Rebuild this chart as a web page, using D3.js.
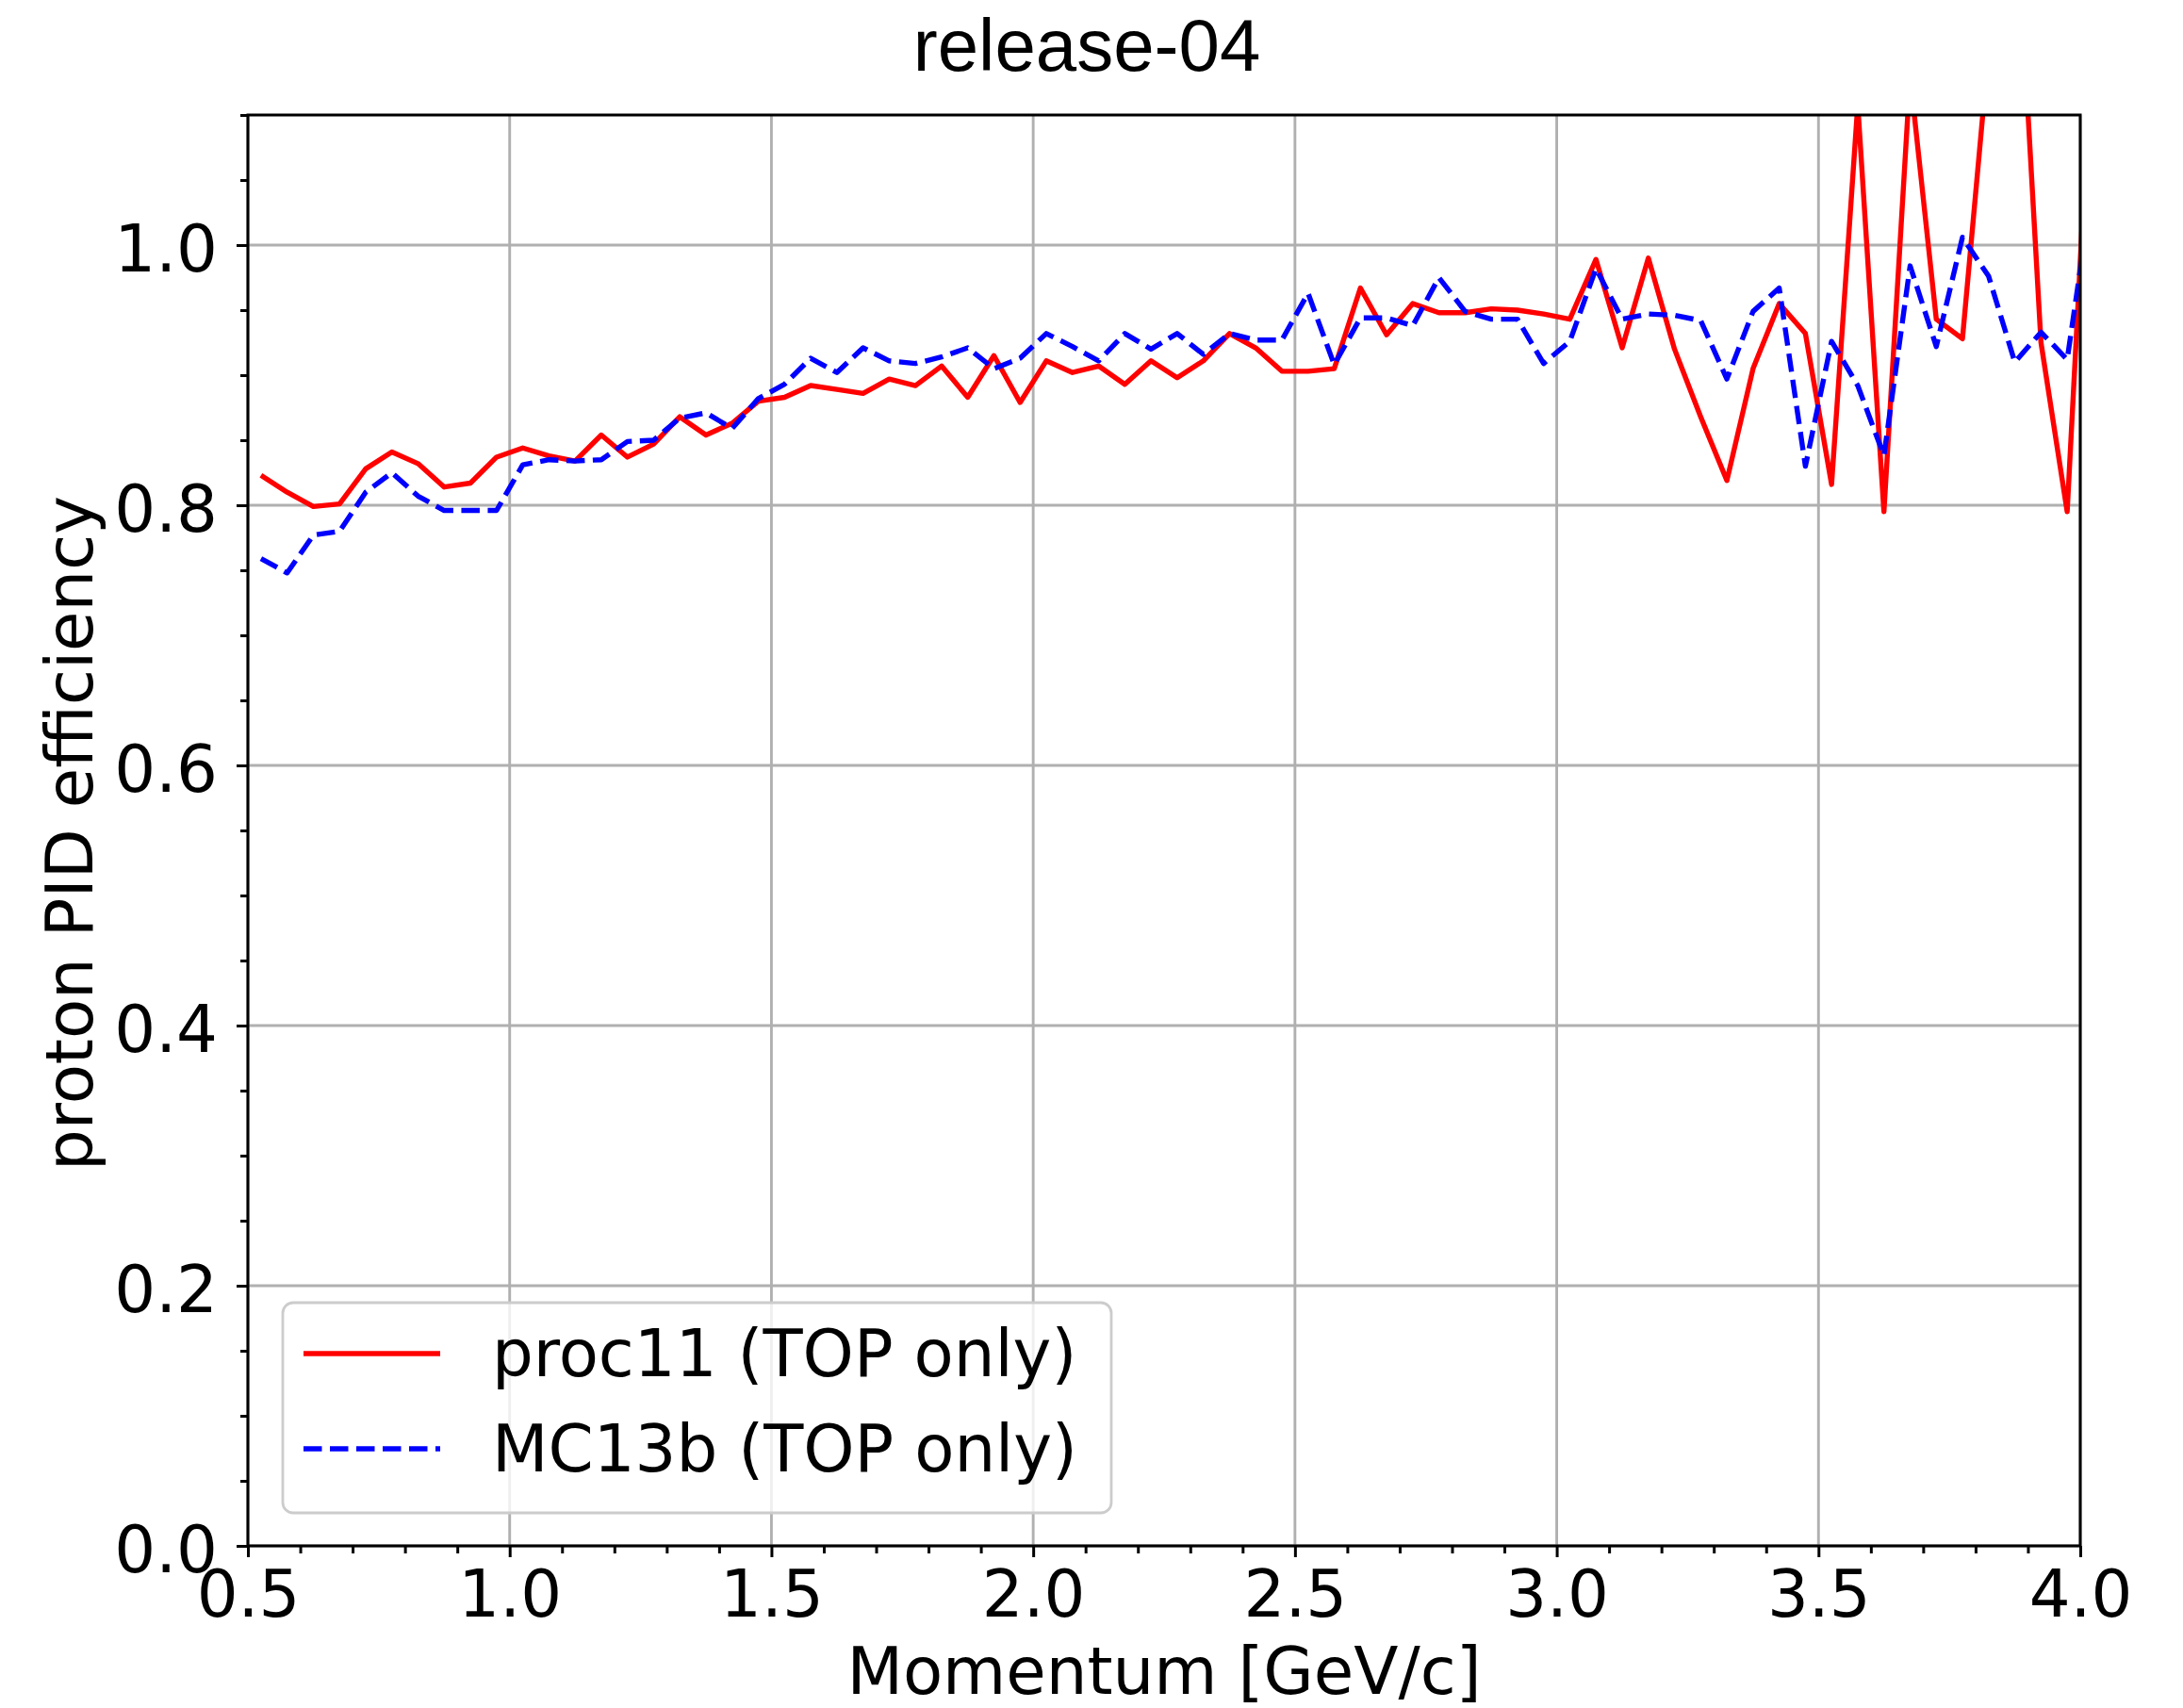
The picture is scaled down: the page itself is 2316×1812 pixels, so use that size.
<!DOCTYPE html>
<html>
<head>
<meta charset="utf-8">
<script src="https://cdn.jsdelivr.net/npm/d3@7"></script>
<style>
  html, body { margin: 0; padding: 0; background: #ffffff; }
  svg { display: block; }
</style>
</head>
<body>
<svg id="chart" width="2316" height="1812"></svg>
<script>
// ---------------- data ----------------
const momentum = [
  0.525, 0.575, 0.625, 0.675, 0.725, 0.775, 0.825, 0.875, 0.925, 0.975,
  1.025, 1.075, 1.125, 1.175, 1.225, 1.275, 1.325, 1.375, 1.425, 1.475,
  1.525, 1.575, 1.625, 1.675, 1.725, 1.775, 1.825, 1.875, 1.925, 1.975,
  2.025, 2.075, 2.125, 2.175, 2.225, 2.275, 2.325, 2.375, 2.425, 2.475,
  2.525, 2.575, 2.625, 2.675, 2.725, 2.775, 2.825, 2.875, 2.925, 2.975,
  3.025, 3.075, 3.125, 3.175, 3.225, 3.275, 3.325, 3.375, 3.425, 3.475,
  3.525, 3.575, 3.625, 3.675, 3.725, 3.775, 3.825, 3.875, 3.925, 3.975,
  4.025
];
const proc11 = [
  0.823, 0.810, 0.799, 0.801, 0.828, 0.841, 0.832, 0.814, 0.817, 0.837,
  0.844, 0.838, 0.834, 0.854, 0.837, 0.847, 0.868, 0.854, 0.863, 0.880,
  0.883, 0.892, 0.889, 0.886, 0.897, 0.892, 0.907, 0.883, 0.915, 0.879,
  0.911, 0.902, 0.907, 0.893, 0.911, 0.898, 0.911, 0.932, 0.921, 0.903,
  0.903, 0.905, 0.967, 0.931, 0.955, 0.948, 0.948, 0.951, 0.950, 0.947,
  0.943, 0.989, 0.921, 0.990, 0.920, 0.868, 0.819, 0.905, 0.955, 0.932,
  0.816, 1.108, 0.795, 1.130, 0.943, 0.928, 1.150, 1.280, 0.925, 0.795,
  1.180
];
const mc13b = [
  0.759, 0.748, 0.777, 0.780, 0.810, 0.825, 0.807, 0.796, 0.796, 0.796,
  0.831, 0.835, 0.834, 0.835, 0.849, 0.850, 0.867, 0.871, 0.859, 0.882,
  0.893, 0.913, 0.902, 0.921, 0.911, 0.909, 0.914, 0.921, 0.905, 0.913,
  0.932, 0.922, 0.911, 0.932, 0.920, 0.932, 0.916, 0.932, 0.927, 0.927,
  0.963, 0.908, 0.944, 0.944, 0.938, 0.975, 0.949, 0.943, 0.943, 0.909,
  0.926, 0.982, 0.943, 0.947, 0.946, 0.942, 0.897, 0.949, 0.967, 0.830,
  0.926, 0.892, 0.838, 0.984, 0.922, 1.006, 0.976, 0.910, 0.933, 0.912,
  1.050
];
const seriesNames = ["proc11 (TOP only)", "MC13b (TOP only)"];
const xTicks = [0.5, 1.0, 1.5, 2.0, 2.5, 3.0, 3.5, 4.0];
const xMinorTicks = [0.6, 0.7, 0.8, 0.9, 1.1, 1.2, 1.3, 1.4, 1.6, 1.7, 1.8, 1.9,
  2.1, 2.2, 2.3, 2.4, 2.6, 2.7, 2.8, 2.9, 3.1, 3.2, 3.3, 3.4, 3.6, 3.7, 3.8, 3.9];
const yTicks = [0.0, 0.2, 0.4, 0.6, 0.8, 1.0];
const yMinorTicks = [0.05, 0.1, 0.15, 0.25, 0.3, 0.35, 0.45, 0.5, 0.55, 0.65, 0.7, 0.75,
  0.85, 0.9, 0.95, 1.05, 1.1];
const titleText = "release-04";
const xLabel = "Momentum [GeV/c]";
const yLabel = "proton PID efficiency";

// ---------------- layout ----------------
const L = 263, R = 2207, T = 122, B = 1640;
const FONT = "'DejaVu Sans', sans-serif";
const FS = 69;
const LW = 5.4;
const DASH = "19.5,8.5";
const svg = d3.select("#chart");

const x = d3.scaleLinear().domain([0.5, 4.0]).range([L, R]);
const y = d3.scaleLinear().domain([0, 1.1]).range([B, T]);

// grid
const grid = svg.append("g");
grid.selectAll("line.gx").data(xTicks).join("line")
  .attr("x1", d => x(d)).attr("x2", d => x(d)).attr("y1", T).attr("y2", B)
  .attr("stroke", "#b0b0b0").attr("stroke-width", 2.9);
grid.selectAll("line.gy").data(yTicks).join("line")
  .attr("y1", d => y(d)).attr("y2", d => y(d)).attr("x1", L).attr("x2", R)
  .attr("stroke", "#b0b0b0").attr("stroke-width", 2.9);

// clip
svg.append("clipPath").attr("id", "plotclip").append("rect")
  .attr("x", L).attr("y", T).attr("width", R - L).attr("height", B - T);

const line = d3.line().x(d => x(d[0])).y(d => y(d[1])).curve(d3.curveLinear);
const dataA = momentum.map((m, i) => [m, proc11[i]]);
const dataB = momentum.map((m, i) => [m, mc13b[i]]);

const plot = svg.append("g").attr("clip-path", "url(#plotclip)");
plot.append("path").datum(dataA).attr("d", line)
  .attr("fill", "none").attr("stroke", "#ff0000").attr("stroke-width", LW)
  .attr("stroke-linejoin", "round");
plot.append("path").datum(dataB).attr("d", line)
  .attr("fill", "none").attr("stroke", "#0000ff").attr("stroke-width", LW)
  .attr("stroke-linejoin", "round").attr("stroke-dasharray", DASH);

// axes
const fmt = d3.format(".1f");
const xAxis = svg.append("g").attr("transform", `translate(0,${B})`)
  .call(d3.axisBottom(x).tickValues(xTicks).tickFormat(fmt).tickSize(12).tickPadding(14));
const xMinor = svg.append("g").attr("transform", `translate(0,${B})`)
  .call(d3.axisBottom(x).tickValues(xMinorTicks).tickFormat("").tickSize(8));
const yAxis = svg.append("g").attr("transform", `translate(${L},0)`)
  .call(d3.axisLeft(y).tickValues(yTicks).tickFormat(fmt).tickSize(12).tickPadding(20));
const yMinor = svg.append("g").attr("transform", `translate(${L},0)`)
  .call(d3.axisLeft(y).tickValues(yMinorTicks).tickFormat("").tickSize(8));

[xAxis, xMinor, yAxis, yMinor].forEach(g => {
  g.select(".domain").remove();
  g.selectAll(".tick line").attr("stroke", "#000").attr("stroke-width", 3);
  g.selectAll(".tick text").attr("fill", "#000")
    .style("font-family", FONT).style("font-size", FS + "px");
});
yAxis.selectAll(".tick text").attr("dy", "0.40em");

// spines
svg.append("rect").attr("x", L).attr("y", T).attr("width", R - L).attr("height", B - T)
  .attr("fill", "none").attr("stroke", "#000").attr("stroke-width", 3);

// legend
const leg = svg.append("g");
leg.append("rect").attr("x", 300).attr("y", 1382).attr("width", 879).attr("height", 223)
  .attr("rx", 11).attr("ry", 11)
  .attr("fill", "#ffffff").attr("fill-opacity", 0.8)
  .attr("stroke", "#cccccc").attr("stroke-width", 2.8);
const legItems = [
  {name: seriesNames[0], color: "#ff0000", dash: null, yy: 1436},
  {name: seriesNames[1], color: "#0000ff", dash: DASH, yy: 1537}
];
legItems.forEach(it => {
  const ln = leg.append("line").attr("x1", 322).attr("x2", 467)
    .attr("y1", it.yy).attr("y2", it.yy)
    .attr("stroke", it.color).attr("stroke-width", LW);
  if (it.dash) ln.attr("stroke-dasharray", it.dash);
  leg.append("text").attr("x", 522).attr("y", it.yy + 24)
    .style("font-family", FONT).style("font-size", FS + "px").attr("fill", "#000")
    .text(it.name);
});

// labels
svg.append("text").attr("x", (L + R) / 2).attr("y", 1797).attr("text-anchor", "middle")
  .style("font-family", FONT).style("font-size", FS + "px").text(xLabel);
svg.append("text").attr("transform", `translate(98,${(T + B) / 2 + 3}) rotate(-90)`)
  .attr("text-anchor", "middle")
  .style("font-family", FONT).style("font-size", FS + "px").text(yLabel);

// title
svg.append("text").attr("x", 1153).attr("y", 75).attr("text-anchor", "middle")
  .style("font-family", "'Liberation Sans', Arial, sans-serif").style("font-size", "78px")
  .attr("fill", "#000").text(titleText);
</script>
</body>
</html>
